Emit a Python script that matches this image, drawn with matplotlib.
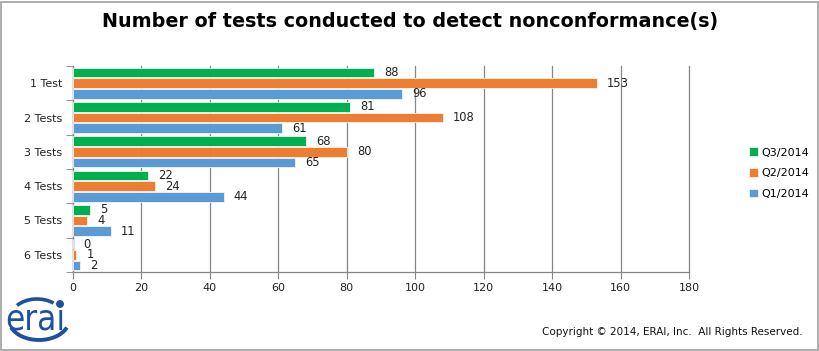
import matplotlib
matplotlib.use("Agg")
import matplotlib.pyplot as plt
import numpy as np
from matplotlib.patches import Ellipse, Arc, Rectangle

categories = ["1 Test", "2 Tests", "3 Tests", "4 Tests", "5 Tests", "6 Tests"]
q3_2014 = [88, 81, 68, 22, 5, 0]
q2_2014 = [153, 108, 80, 24, 4, 1]
q1_2014 = [96, 61, 65, 44, 11, 2]
series_names = ["Q3/2014", "Q2/2014", "Q1/2014"]
colors = ["#00B050", "#ED7D31", "#5B9BD5"]
x_ticks = [0, 20, 40, 60, 80, 100, 120, 140, 160, 180]

W, H = 820, 351
fig = plt.figure(figsize=(W / 100, H / 100), dpi=100)
fig.patch.set_facecolor("white")

# outer border
fig.patches.append(Rectangle((1 / W, 1 / H), (W - 3) / W, (H - 3) / H, transform=fig.transFigure,
                             fill=False, edgecolor="#A0A0A0", linewidth=1.2))

ax = fig.add_axes([73 / W, 1 - 272 / H, 616 / W, 206 / H])
y = np.arange(len(categories))
pitch = 0.31
bh = 0.285
for k, (vals, c) in enumerate(zip([q3_2014, q2_2014, q1_2014], colors)):
    pos = y + (k - 1) * pitch
    ax.barh(pos, vals, height=bh, color=c, edgecolor="#F4F4F4", linewidth=0.6, zorder=3,
            label=series_names[k])
    for p, v in zip(pos, vals):
        ax.text(v + 3.0, p, str(v), va="center", ha="left", fontsize=8.3, color="#222222",
                family="DejaVu Sans", zorder=4)

ax.set_xlim(0, 180)
ax.set_ylim(len(categories) - 0.5, -0.5)
ax.set_xticks(x_ticks)
ax.set_xticklabels([str(t) for t in x_ticks], fontsize=8, color="#222222")
ax.set_yticks(y)
ax.set_yticklabels(categories, fontsize=8, color="#222222")
ax.tick_params(axis="y", which="major", length=0, pad=8)
ax.set_yticks(np.arange(-0.5, len(categories) + 0.5, 1), minor=True)
ax.tick_params(axis="y", which="minor", length=5, color="#868686")
ax.tick_params(axis="x", length=5, color="#868686", pad=3)
ax.grid(axis="x", color="#868686", linewidth=0.9, zorder=0)
for gl in ax.get_xgridlines():
    gl.set_clip_on(False)
for s in ["top", "right"]:
    ax.spines[s].set_visible(False)
for s in ["left", "bottom"]:
    ax.spines[s].set_color("#868686")
    ax.spines[s].set_linewidth(0.9)

# legend
handles, labels = ax.get_legend_handles_labels()
leg = fig.legend(handles, labels, loc="upper left", bbox_to_anchor=(745 / W, 1 - 143 / H),
                 frameon=False, fontsize=8, handlelength=0.8, handleheight=0.8,
                 handletextpad=0.3, labelspacing=0.95, borderaxespad=0)

fig.text(0.5, 1 - 21 / H, "Number of tests conducted to detect nonconformance(s)",
         ha="center", va="center", fontsize=13.8, fontweight="bold", color="black")

fig.text(803 / W, 1 - 332 / H, "Copyright \u00a9 2014, ERAI, Inc.  All Rights Reserved.",
         ha="right", va="center", fontsize=7.5, color="#111111")

# logo
logo_c = "#1F4F9F"
fig.text(35 / W, 1 - 320 / H, "erai", ha="center", va="center", fontsize=25,
         color=logo_c, fontstretch="condensed", family="DejaVu Sans")
lax = fig.add_axes([6 / W, 1 - 346 / H, 64 / W, 56 / H])
lax.set_xlim(0, 64)
lax.set_ylim(0, 56)
lax.axis("off")
lax.add_patch(Arc((33, 26), 60, 40, theta1=195, theta2=345, color=logo_c, linewidth=2.8))
lax.add_patch(Arc((31, 29), 52, 36, theta1=40, theta2=150, color=logo_c, linewidth=2.6))
lax.add_patch(Ellipse((54, 42), 6.5, 6.5, color=logo_c))

fig.savefig("out.png", dpi=100, facecolor="white")
